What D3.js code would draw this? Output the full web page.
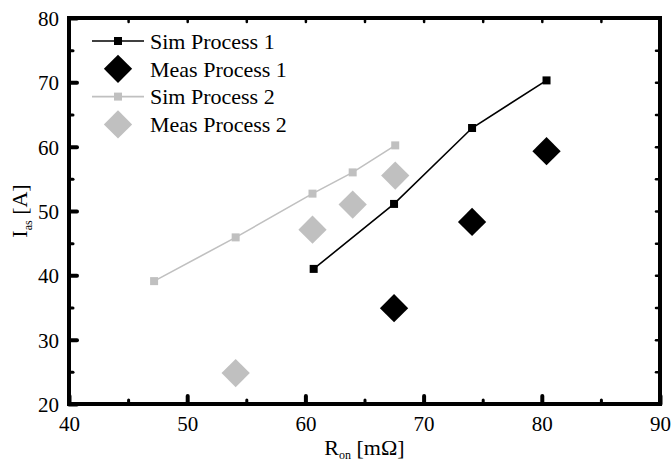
<!DOCTYPE html>
<html>
<head>
<meta charset="utf-8">
<script src="https://cdn.jsdelivr.net/npm/d3@7"></script>
<style>
  body { margin: 0; background: #fff; }
</style>
</head>
<body>
<div id="chart"></div>
<script>
// data
const sim1X = [60.7, 67.5, 74.1, 80.4];
const sim1Y = [41.0, 51.1, 62.9, 70.3];
const meas1X = [67.5, 74.1, 80.4];
const meas1Y = [34.9, 48.3, 59.3];
const sim2X = [47.2, 54.1, 60.6, 64.0, 67.6];
const sim2Y = [39.1, 45.9, 52.7, 56.0, 60.2];
const meas2X = [54.1, 60.6, 64.0, 67.6];
const meas2Y = [24.8, 47.1, 51.0, 55.5];

const xTicks = [40, 50, 60, 70, 80, 90];
const yTicks = [20, 30, 40, 50, 60, 70, 80];
const xMinor = [45, 55, 65, 75, 85];
const yMinor = [25, 35, 45, 55, 65, 75];

const BLACK = '#000';
const GREY = '#c0c0c0';
const FONT = '"Liberation Serif", "DejaVu Serif", "Times New Roman", serif';

const width = 672, height = 464;
const margin = { top: 18, right: 12, bottom: 60, left: 69 };
const innerW = width - margin.left - margin.right;
const innerH = height - margin.top - margin.bottom;

const svg = d3.select('#chart').append('svg')
  .attr('width', width)
  .attr('height', height);

const g = svg.append('g')
  .attr('transform', `translate(${margin.left},${margin.top})`);

const x = d3.scaleLinear().domain([40, 90]).range([0, innerW]);
const y = d3.scaleLinear().domain([20, 80]).range([innerH, 0]);

// ---- axes ----
function styleAxis(sel, w) {
  sel.select('.domain').remove();
  sel.attr('font-family', FONT);
  sel.selectAll('line').attr('stroke', BLACK).attr('stroke-width', w).attr('stroke-linecap', 'round');
  sel.selectAll('text').style('font-family', FONT).style('font-size', '21px').attr('fill', BLACK);
}

// left: major ticks with labels
g.append('g')
  .call(d3.axisLeft(y).tickValues(yTicks).tickSize(-8).tickPadding(10))
  .call(s => styleAxis(s, 4))
  .call(s => s.selectAll('text').attr('dy', '0.35em'));
g.append('g')
  .call(d3.axisLeft(y).tickValues(yMinor).tickSize(-4).tickFormat(''))
  .call(s => styleAxis(s, 3));

// bottom
g.append('g')
  .attr('transform', `translate(0,${innerH})`)
  .call(d3.axisBottom(x).tickValues(xTicks).tickSize(-8).tickPadding(12))
  .call(s => styleAxis(s, 4))
  .call(s => s.selectAll('text').attr('dy', '0.71em'));
g.append('g')
  .attr('transform', `translate(0,${innerH})`)
  .call(d3.axisBottom(x).tickValues(xMinor).tickSize(-4).tickFormat(''))
  .call(s => styleAxis(s, 3));

// top and right: small ticks, no labels
g.append('g')
  .call(d3.axisTop(x).tickValues(xTicks.concat(xMinor)).tickSize(-4).tickFormat(''))
  .call(s => styleAxis(s, 2.5));
g.append('g')
  .attr('transform', `translate(${innerW},0)`)
  .call(d3.axisRight(y).tickValues(yTicks.concat(yMinor)).tickSize(-4).tickFormat(''))
  .call(s => styleAxis(s, 2.5));

// frame
g.append('rect')
  .attr('width', innerW)
  .attr('height', innerH)
  .attr('fill', 'none')
  .attr('stroke', BLACK)
  .attr('stroke-width', 4);

// ---- series ----
const zip = (xs, ys) => xs.map((v, i) => [v, ys[i]]);
const line = d3.line().x(d => x(d[0])).y(d => y(d[1]));
const diamond = d3.symbol().type(d3.symbolSquare).size(400);

function drawSim(pts, color) {
  g.append('path')
    .datum(pts)
    .attr('d', line)
    .attr('fill', 'none')
    .attr('stroke', color)
    .attr('stroke-width', 1.6);
  g.selectAll(null).data(pts).enter().append('rect')
    .attr('x', d => x(d[0]) - 4)
    .attr('y', d => y(d[1]) - 4)
    .attr('width', 8)
    .attr('height', 8)
    .attr('fill', color);
}

function drawMeas(pts, color) {
  g.selectAll(null).data(pts).enter().append('path')
    .attr('d', diamond)
    .attr('transform', d => `translate(${x(d[0])},${y(d[1])}) rotate(45)`)
    .attr('fill', color);
}

drawSim(zip(sim2X, sim2Y), GREY);
drawMeas(zip(meas2X, meas2Y), GREY);
drawSim(zip(sim1X, sim1Y), BLACK);
drawMeas(zip(meas1X, meas1Y), BLACK);

// ---- legend ----
const legendItems = [
  { label: 'Sim Process 1', color: BLACK, kind: 'sim' },
  { label: 'Meas Process 1', color: BLACK, kind: 'meas' },
  { label: 'Sim Process 2', color: GREY, kind: 'sim' },
  { label: 'Meas Process 2', color: GREY, kind: 'meas' }
];

const legend = svg.append('g').attr('transform', 'translate(118,41)');
legendItems.forEach((item, i) => {
  const row = legend.append('g').attr('transform', `translate(0,${i * 27.8})`);
  if (item.kind === 'sim') {
    row.append('line')
      .attr('x1', -26).attr('x2', 26)
      .attr('stroke', item.color).attr('stroke-width', 1.6);
    row.append('rect')
      .attr('x', -4).attr('y', -4).attr('width', 8).attr('height', 8)
      .attr('fill', item.color);
  } else {
    row.append('path')
      .attr('d', diamond)
      .attr('transform', 'rotate(45)')
      .attr('fill', item.color);
  }
  row.append('text')
    .attr('x', 32)
    .attr('dy', '0.35em')
    .style('font-family', FONT)
    .style('font-size', '22px')
    .text(item.label);
});

// ---- axis titles ----
const xTitle = svg.append('text')
  .attr('x', margin.left + innerW / 2)
  .attr('y', 455)
  .attr('text-anchor', 'middle')
  .style('font-family', FONT)
  .style('font-size', '22px');
xTitle.append('tspan').text('R');
xTitle.append('tspan').attr('dy', 4).style('font-size', '12px').text('on');
xTitle.append('tspan').attr('dy', -4).text(' [mΩ]');

const yTitle = svg.append('text')
  .attr('transform', `translate(27,${margin.top + innerH / 2}) rotate(-90)`)
  .attr('text-anchor', 'middle')
  .style('font-family', FONT)
  .style('font-size', '22px');
yTitle.append('tspan').text('I');
yTitle.append('tspan').attr('dy', 5).style('font-size', '12px').text('as');
yTitle.append('tspan').attr('dy', -5).text(' [A]');
</script>
</body>
</html>
